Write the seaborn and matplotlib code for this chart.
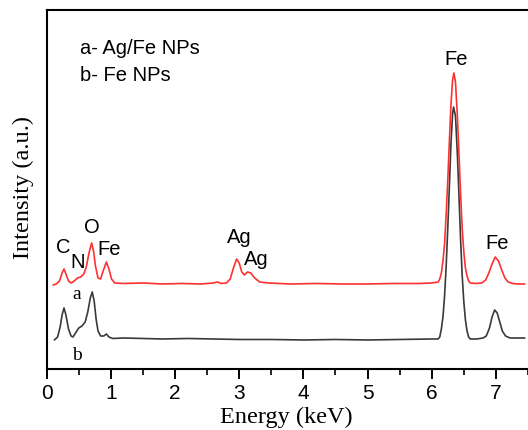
import matplotlib
matplotlib.use("Agg")
import matplotlib.pyplot as plt
import seaborn as sns
import pandas as pd

# EDX spectra, energy in keV and intensity in arbitrary units
energy_a = [0.10, 0.15, 0.20, 0.24, 0.27, 0.30, 0.34, 0.38, 0.43, 0.48, 0.53, 0.58,
            0.62, 0.66, 0.70, 0.73, 0.76, 0.80, 0.84, 0.88, 0.93, 0.97, 1.01, 1.06,
            1.20, 1.50, 1.80, 2.10, 2.40, 2.60, 2.66, 2.72, 2.80, 2.86, 2.91, 2.96,
            3.00, 3.04, 3.08, 3.13, 3.18, 3.24, 3.32, 3.45, 3.80, 4.20, 4.60, 5.00,
            5.40, 5.80, 6.00, 6.100, 6.125, 6.150, 6.175, 6.200, 6.225, 6.250, 6.275,
            6.300, 6.325, 6.345, 6.370, 6.400, 6.425, 6.450, 6.475, 6.500, 6.525,
            6.550, 6.575, 6.600, 6.70, 6.78, 6.84, 6.89, 6.94, 6.99, 7.04, 7.09,
            7.14, 7.19, 7.26, 7.35, 7.45]
intensity_a = [84, 85, 88, 96, 100, 95, 88, 86, 88, 91, 92, 95,
               103, 116, 126, 118, 103, 91, 90, 98, 107, 100, 90, 86,
               85.5, 86, 85, 85.5, 85, 86, 87, 85.5, 86, 90, 101, 110,
               106, 97, 94, 97, 96, 91, 87, 86, 85, 85.5, 85, 85,
               85.5, 85.5, 86, 87, 90, 96, 108, 125, 155, 189, 228,
               265, 289, 296, 287, 252, 214, 174, 140, 117, 101,
               93, 88, 86, 85.5, 86, 89, 96, 105, 112, 108, 99,
               91, 87, 85.5, 85, 85]

energy_b = [0.12, 0.17, 0.21, 0.24, 0.27, 0.30, 0.34, 0.38, 0.41, 0.45, 0.50, 0.55,
            0.60, 0.64, 0.68, 0.71, 0.74, 0.77, 0.80, 0.84, 0.89, 0.93, 0.97, 1.03,
            1.20, 1.50, 1.80, 2.20, 2.60, 3.00, 3.50, 4.00, 4.50, 5.00, 5.50, 6.00,
            6.100, 6.125, 6.150, 6.175, 6.200, 6.225, 6.250, 6.275, 6.300, 6.325,
            6.340, 6.370, 6.400, 6.425, 6.450, 6.475, 6.500, 6.525, 6.550, 6.575,
            6.600, 6.70, 6.80, 6.85, 6.90, 6.94, 6.98, 7.02, 7.06, 7.10, 7.15,
            7.22, 7.32, 7.45]
intensity_b = [29, 32, 42, 54, 61, 54, 40, 33, 32, 36, 41, 43,
               47, 57, 71, 77, 68, 50, 38, 33, 33, 35, 32, 30.5,
               31, 30.5, 30, 30.5, 30, 29.5, 29.5, 29, 29.5, 29, 29.5, 30,
               30, 32, 40, 52, 73, 103, 141, 183, 226, 255,
               262, 253, 214, 172, 129, 93, 67, 49, 38, 32,
               30, 30, 31, 33, 41, 52, 59, 56, 47, 38, 33,
               31, 31, 31]

# Element labels: text, energy, baseline height
peak_labels = ["C", "N", "O", "Fe", "Ag", "Ag", "Fe", "Fe"]
peak_x = [0.252, 0.484, 0.71, 0.98, 3.0, 3.266, 6.373, 7.02]
peak_y = [116.7, 101.7, 137.3, 115, 126.7, 105, 305, 120.7]

legend_lines = ["a- Ag/Fe NPs", "b- Fe NPs"]
x_ticks = [0, 1, 2, 3, 4, 5, 6, 7]

sns.set_theme(style="ticks")
plt.rcParams["font.family"] = ["Liberation Sans", "DejaVu Sans"]
plt.rcParams["text.color"] = "black"
plt.rcParams["axes.labelcolor"] = "black"
plt.rcParams["xtick.color"] = "black"
plt.rcParams["xtick.labelcolor"] = "black"

serif = ["Liberation Serif", "DejaVu Serif"]

spec_a = pd.DataFrame({"Energy": energy_a, "Intensity": intensity_a})
spec_b = pd.DataFrame({"Energy": energy_b, "Intensity": intensity_b})

fig = plt.figure(figsize=(5.28, 4.31), dpi=100)
ax = fig.add_axes([0.0884, 0.1404, 0.9116, 0.8341])

sns.lineplot(data=spec_b, x="Energy", y="Intensity", ax=ax,
             color="#3a3a3a", linewidth=1.2)
sns.lineplot(data=spec_a, x="Energy", y="Intensity", ax=ax,
             color="#ff3030", linewidth=1.2)

ax.set_xlim(0, 7.443)
ax.set_ylim(-0.5, 359)

ax.set_xticks(x_ticks)
ax.set_xticklabels([str(t) for t in x_ticks], fontsize=15)
ax.set_xticks([t + 0.5 for t in x_ticks], minor=True)
ax.tick_params(axis="x", which="major", direction="out", length=7, width=1.4,
               pad=3)
ax.tick_params(axis="x", which="minor", direction="out", length=4, width=1.2)
ax.set_yticks([])

for side in ["left", "bottom", "top"]:
    ax.spines[side].set_linewidth(1.5)
    ax.spines[side].set_color("black")
ax.spines["right"].set_visible(False)

ax.set_xlabel("Energy (keV)", family=serif, fontsize=17.5, va="top")
ax.xaxis.set_label_coords(0.497, -0.100)
ax.set_ylabel("Intensity (a.u.)", family=serif, fontsize=17.5)
ax.yaxis.set_label_coords(-0.026, 0.508)

for lab, x, y in zip(peak_labels, peak_x, peak_y):
    ax.text(x, y, lab, ha="center", va="baseline", fontsize=14.5)

ax.text(0.523, 316, legend_lines[0], ha="left", va="baseline", fontsize=14.5)
ax.text(0.523, 289, legend_lines[1], ha="left", va="baseline", fontsize=14.5)

# Curve tags
ax.text(0.465, 71, "a", ha="center", va="baseline", fontsize=14, family=serif)
ax.text(0.474, 10, "b", ha="center", va="baseline", fontsize=14, family=serif)

fig.savefig("out.png", dpi=100)
